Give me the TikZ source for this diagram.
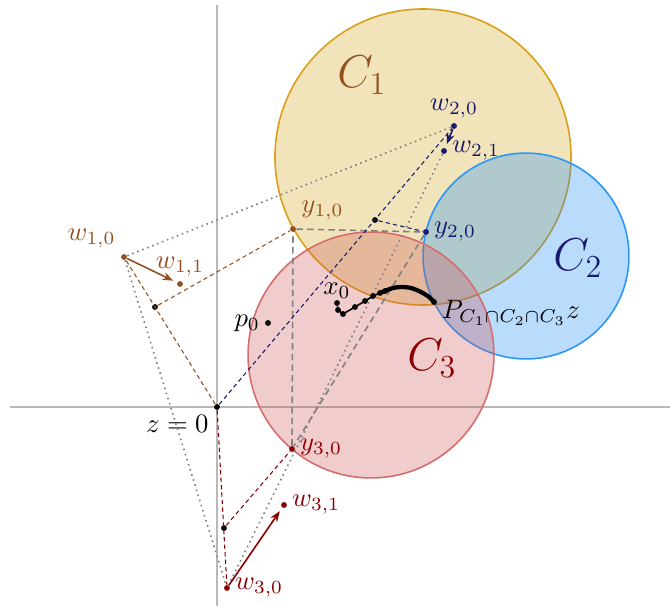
\documentclass[tikz,border=0pt]{standalone}
\usetikzlibrary{arrows.meta}
\definecolor{colone}{RGB}{150,80,30}
\definecolor{coltwo}{RGB}{25,25,112}
\definecolor{colthree}{RGB}{139,0,0}
\definecolor{setone}{RGB}{212,165,28}
\definecolor{settwo}{RGB}{22,138,248}
\definecolor{setthree}{RGB}{205,85,85}
\begin{document}
\begin{tikzpicture}[x=0.375pt, y=-0.375pt, label distance=-1.8pt,
	vertex/.style={ circle, fill, inner sep=0pt, minimum size=2.2pt },
	proj/.style={ thin, dash pattern=on 1.6pt off 1.2pt },
	wtri/.style={ gray, semithick, dash pattern=on 0.6pt off 1.4pt },
	ytri/.style={ gray, semithick, dash pattern=on 2.4pt off 1.6pt },
	move/.style={ semithick, -{Stealth[length=4pt,width=3pt]}, shorten >=1.5pt },
	setc/.style={ line width=0.6pt, fill opacity=0.3 }
]
\useasboundingbox (0,0) rectangle (670,606);

% axes
\draw[gray!55, line width=0.7pt] (10,407) -- (670,407);
\draw[gray!55, line width=0.7pt] (217,5) -- (217,606);

% the three sets
\filldraw[setc, draw=setone!85!orange, fill=setone] (423,157) circle (55.5pt);
\filldraw[setc, draw=settwo!90!white, fill=settwo] (526,256) circle (38.6pt);
\filldraw[setc, draw=setthree!85!white, fill=setthree] (371,355) circle (46.1pt);
\node at (362,75) [colone] {\LARGE $C_1$};
\node at (578,258) [coltwo] {\LARGE $C_2$};
\node at (432,358) [colthree] {\LARGE $C_3$};

% points
\node at (217,407) (z) [vertex,label=below left:{$z=0$}] {};
\node at (268,323) (p0) [vertex,label=left:{$p_0$}] {};
\node at (124,257) (w10) [vertex,colone,label={[colone]above left:{$w_{1,0}$}}] {};
\node at (180,284) (w11) [vertex,colone,label={[colone]above:{$w_{1,1}$}}] {};
\node at (293,229) (y10) [vertex,colone,label={[colone]above right:{$y_{1,0}$}}] {};
\node at (454,126) (w20) [vertex,coltwo,label={[coltwo]above:{$w_{2,0}$}}] {};
\node at (444,151) (w21) [vertex,coltwo,label={[coltwo]right:{$w_{2,1}$}}] {};
\node at (426,232) (y20) [vertex,coltwo,label={[coltwo]right:{$y_{2,0}$}}] {};
\node at (227,588) (w30) [vertex,colthree,label={[colthree]right:{$w_{3,0}$}}] {};
\node at (284,505) (w31) [vertex,colthree,label={[colthree]right:{$w_{3,1}$}}] {};
\node at (292,449) (y30) [vertex,colthree,label={[colthree]right:{$y_{3,0}$}}] {};
\node at (155,307) (f1) [vertex] {};
\node at (375,220) (f2) [vertex] {};
\node at (224,528) (f3) [vertex] {};

% triangles
\draw[wtri] (w10) -- (w20);
\draw[wtri] (w21) -- (w30);
\draw[wtri] (w10) -- (w30);
\draw[ytri] (y10) -- (y20) -- (y30) -- (y10);

% projections
\draw[proj, colone] (z) -- (w10);
\draw[proj, colone] (f1) -- (y10);
\draw[proj, coltwo] (z) -- (w20);
\draw[proj, coltwo] (f2) -- (y20);
\draw[proj, colthree] (z) -- (w30);
\draw[proj, colthree] (f3) -- (y30);

% steps
\draw[move, colone] (w10) -- (w11);
\draw[move, coltwo] (w20) -- (w21);
\draw[move, colthree] (w30) -- (w31);

% iterates
\node at (337,303) (x0) [vertex,label={[yshift=-1.5pt]above:{$x_0$}}] {};
\node at (434,302) (pz) [vertex,label={[anchor=west,yshift=-4pt]right:{$P_{C_1\cap C_2\cap C_3}z$}}] {};
\draw[semithick] (x0) -- (338,310) -- (343,314) -- (355,307) -- (365,301) -- (373,296) -- (380,293);
\foreach \p in {(338,310),(343,314),(355,307),(365,301),(373,296),(380,293),(385,291)}
  \fill \p circle (1.1pt);
\draw[line width=1.6pt, line cap=round] plot[smooth] coordinates {(380,293) (386,290.5) (393,288) (401,287) (411,288) (421,292) (429,297) (pz)};
\end{tikzpicture}
\end{document}
